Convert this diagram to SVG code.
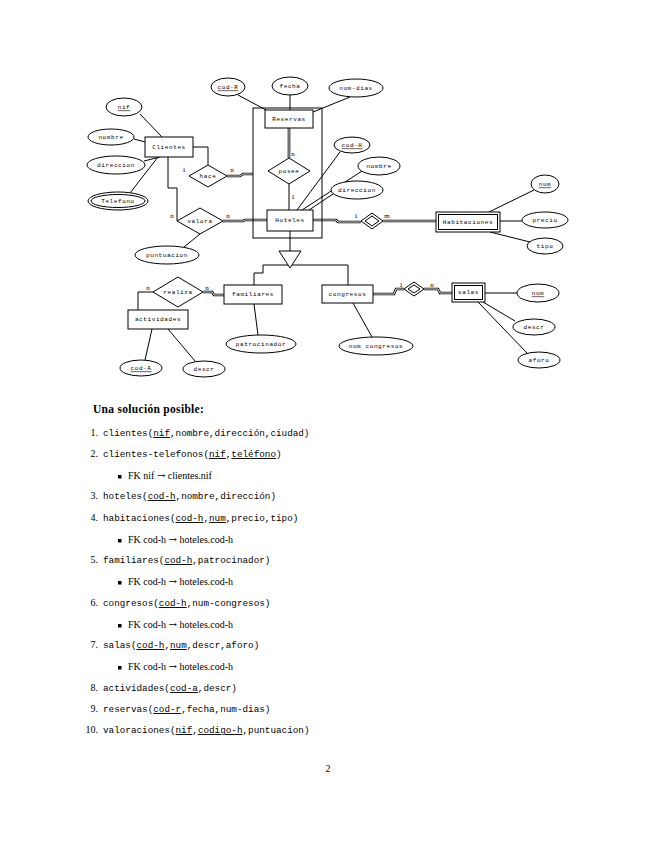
<svg xmlns="http://www.w3.org/2000/svg" width="655" height="848" viewBox="0 0 655 848">
<style>
.e{fill:#fff;stroke:#000;stroke-width:1}
.n{fill:none;stroke:#000;stroke-width:1}
.t{font-family:"Liberation Mono",monospace;font-size:6px;letter-spacing:0.6px;text-anchor:middle;dominant-baseline:central;fill:#000}
.c{font-family:"Liberation Serif",serif;font-size:7px;text-anchor:middle;fill:#000}
.dO{fill:none;stroke:#000;stroke-width:2.6}
.dI{fill:none;stroke:#fff;stroke-width:0.9}
.u{text-decoration:underline}
.m{font-family:"Liberation Mono",monospace;font-size:9.3px;fill:#000}
.s{font-family:"Liberation Serif",serif;font-size:10px;fill:#000}
.a{font-family:"DejaVu Serif",serif;font-size:10px}
.num{font-family:"Liberation Serif",serif;font-size:10px;fill:#000;text-anchor:end}
</style>
<rect width="655" height="848" fill="#fff"/>
<g id="connectors">
<path class="n" d="M140,114 L162,137 M134,139 L145,142 M144,161 L160,157 M130,193 L158,157 M193,147 H208 V165 M168,157 V188 H177 V221 M200,234 L184,247 M238,95 L266,110 M290,95 V110 M350,97 L313,112 M289,184 V210 M340,152 L297,210 M362,171 L302,210 M333,194 L309,210 M290,231 V251 M290,265 H263 V273 H254 V285 M290,265 H348 V285 M254,304 L258,335 M353,303 L372,337 M485,293 H517 M483,302 L515,321 M478,302 L527,353 M489,212 L534,190 M500,221 H522 M490,232 L530,242 M153,292 H138 V310 M152,329 L145,360 M168,329 L195,361"/>
<path class="dO" d="M289,128 V158 M227,176 H240 L243,174 H253 M223,221 H243 L245,220 H267 M313,220 H336 L338,222 H361 M383,221 H436 M203,292 H212 L214,295 H224 M373,294 H394 L396,289 H404 M424,289 H438 L440,293 H452"/>
<path class="dI" d="M289,128 V158 M227,176 H240 L243,174 H253 M223,221 H243 L245,220 H267 M313,220 H336 L338,222 H361 M383,221 H436 M203,292 H212 L214,295 H224 M373,294 H394 L396,289 H404 M424,289 H438 L440,293 H452"/>
<rect class="n" x="253" y="108" width="69" height="130"/>
<text class="c" x="184" y="172">1</text>
<text class="c" x="232" y="172">n</text>
<text class="c" x="172" y="218">n</text>
<text class="c" x="228" y="218">n</text>
<text class="c" x="293" y="156">n</text>
<text class="c" x="293" y="199">1</text>
<text class="c" x="356" y="218">1</text>
<text class="c" x="387" y="218">m</text>
<text class="c" x="148" y="290">n</text>
<text class="c" x="207" y="290">n</text>
<text class="c" x="401" y="287">1</text>
<text class="c" x="432" y="287">n</text>
</g>
<g id="clientes"><rect class="e" x="145" y="137" width="48" height="20"/><text class="t" x="169" y="147">Clientes</text></g>
<g id="nif"><ellipse class="e" cx="124" cy="107" rx="18" ry="9"/><text class="t u" x="124" y="107">nif</text></g>
<g id="nombre-c"><ellipse class="e" cx="111" cy="137" rx="23" ry="8"/><text class="t" x="111" y="137">nombre</text></g>
<g id="direccion-c"><ellipse class="e" cx="116" cy="165" rx="29" ry="9"/><text class="t" x="116" y="165">direccion</text></g>
<g id="telefono"><ellipse class="e" cx="118" cy="201" rx="30" ry="9"/><ellipse class="e" cx="118" cy="201" rx="27" ry="6.5"/><text class="t" x="118" y="201">Telefono</text></g>
<g id="hace"><polygon class="e" points="189,176 208,165 227,176 208,187"/><text class="t" x="208" y="176">hace</text></g>
<g id="valora"><polygon class="e" points="177,221 200,208 223,221 200,234"/><text class="t" x="200" y="221">valora</text></g>
<g id="puntuacion"><ellipse class="e" cx="167" cy="255" rx="32" ry="9"/><text class="t" x="167" y="255">puntuacion</text></g>
<g id="reservas"><rect class="e" x="265" y="110" width="48" height="18"/><text class="t" x="289" y="119">Reservas</text></g>
<g id="cod-r"><ellipse class="e" cx="228" cy="87" rx="17" ry="9"/><text class="t u" x="228" y="87">cod-R</text></g>
<g id="fecha"><ellipse class="e" cx="290" cy="86" rx="18" ry="9"/><text class="t" x="290" y="86">fecha</text></g>
<g id="num-dias"><ellipse class="e" cx="356" cy="88" rx="27" ry="9"/><text class="t" x="356" y="88">num-dias</text></g>
<g id="posee"><polygon class="e" points="268,171 289,158 310,171 289,184"/><text class="t" x="289" y="171">posee</text></g>
<g id="hoteles"><rect class="e" x="267" y="210" width="46" height="21"/><text class="t" x="290" y="220.5">Hoteles</text></g>
<g id="cod-h"><ellipse class="e" cx="352" cy="145" rx="18" ry="8"/><text class="t u" x="352" y="145">cod-H</text></g>
<g id="nombre-h"><ellipse class="e" cx="379" cy="166" rx="21" ry="9"/><text class="t" x="379" y="166">nombre</text></g>
<g id="direccion-h"><ellipse class="e" cx="357" cy="190" rx="26" ry="9"/><text class="t" x="357" y="190">direccion</text></g>
<g id="tiene-hab"><polygon class="e" points="361,221 372,213 383,221 372,229"/><polygon class="e" points="365,221 372,216 379,221 372,226"/></g>
<g id="habitaciones"><rect class="e" x="436" y="212" width="64" height="20"/><rect class="e" x="438.5" y="214.5" width="59" height="15"/><text class="t" x="468" y="222">Habitaciones</text></g>
<g id="num-hab"><ellipse class="e" cx="545" cy="184" rx="14" ry="9"/><text class="t u" x="545" y="184">num</text></g>
<g id="precio"><ellipse class="e" cx="545" cy="220" rx="23" ry="8"/><text class="t" x="545" y="220">precio</text></g>
<g id="tipo"><ellipse class="e" cx="545" cy="246" rx="18" ry="8"/><text class="t" x="545" y="246">tipo</text></g>
<g id="isa"><polygon class="e" points="279,251 301,251 290,268"/></g>
<g id="familiares"><rect class="e" x="224" y="285" width="58" height="19"/><text class="t" x="253" y="294.5">familiares</text></g>
<g id="patrocinador"><ellipse class="e" cx="261" cy="344" rx="35" ry="9"/><text class="t" x="261" y="344">patrocinador</text></g>
<g id="congresos"><rect class="e" x="322" y="285" width="51" height="18"/><text class="t" x="347.5" y="294">congresos</text></g>
<g id="num-congresos"><ellipse class="e" cx="376" cy="346" rx="37" ry="9"/><text class="t" x="376" y="346">num congresos</text></g>
<g id="tiene-salas"><polygon class="e" points="404,289 414,282 424,289 414,296"/><polygon class="e" points="408,289 414,285 420,289 414,293"/></g>
<g id="salas"><rect class="e" x="452" y="283" width="33" height="19"/><rect class="e" x="454.5" y="285.5" width="28" height="14"/><text class="t" x="468.5" y="292.5">salas</text></g>
<g id="num-salas"><ellipse class="e" cx="538" cy="293" rx="21" ry="9"/><text class="t u" x="538" y="293">num</text></g>
<g id="descr-s"><ellipse class="e" cx="534" cy="327" rx="21" ry="8"/><text class="t" x="534" y="327">descr</text></g>
<g id="aforo"><ellipse class="e" cx="539" cy="360" rx="21" ry="8"/><text class="t" x="539" y="360">aforo</text></g>
<g id="realiza"><polygon class="e" points="153,292 178,277 203,292 178,307"/><text class="t" x="178" y="292">realiza</text></g>
<g id="actividades"><rect class="e" x="128" y="310" width="60" height="19"/><text class="t" x="158" y="319.5">actividades</text></g>
<g id="cod-a"><ellipse class="e" cx="141" cy="368" rx="21" ry="8"/><text class="t u" x="141" y="368">cod-A</text></g>
<g id="descr-a"><ellipse class="e" cx="204" cy="369" rx="21" ry="8"/><text class="t" x="204" y="369">descr</text></g>
<g id="solution">
<text x="93" y="413" style="font-family:'Liberation Serif',serif;font-size:11.5px;font-weight:bold;letter-spacing:0.3px">Una solución posible:</text>
<text class="num" x="98" y="436">1.</text><text class="m" x="103" y="436">clientes(<tspan class="u">nif</tspan>,nombre,dirección,ciudad)</text>
<text class="num" x="98" y="457">2.</text><text class="m" x="103" y="457">clientes-telefonos(<tspan class="u">nif</tspan>,<tspan class="u">teléfono</tspan>)</text>
<rect x="118" y="475" width="3.5" height="3.5"/><text class="s" x="128" y="479">FK nif <tspan class="a">→</tspan> clientes.nif</text>
<text class="num" x="98" y="499">3.</text><text class="m" x="103" y="499">hoteles(<tspan class="u">cod-h</tspan>,nombre,dirección)</text>
<text class="num" x="98" y="521">4.</text><text class="m" x="103" y="521">habitaciones(<tspan class="u">cod-h</tspan>,<tspan class="u">num</tspan>,precio,tipo)</text>
<rect x="118" y="539" width="3.5" height="3.5"/><text class="s" x="128" y="543">FK cod-h <tspan class="a">→</tspan> hoteles.cod-h</text>
<text class="num" x="98" y="563">5.</text><text class="m" x="103" y="563">familiares(<tspan class="u">cod-h</tspan>,patrocinador)</text>
<rect x="118" y="581" width="3.5" height="3.5"/><text class="s" x="128" y="585">FK cod-h <tspan class="a">→</tspan> hoteles.cod-h</text>
<text class="num" x="98" y="606">6.</text><text class="m" x="103" y="606">congresos(<tspan class="u">cod-h</tspan>,num-congresos)</text>
<rect x="118" y="624" width="3.5" height="3.5"/><text class="s" x="128" y="628">FK cod-h <tspan class="a">→</tspan> hoteles.cod-h</text>
<text class="num" x="98" y="648">7.</text><text class="m" x="103" y="648">salas(<tspan class="u">cod-h</tspan>,<tspan class="u">num</tspan>,descr,aforo)</text>
<rect x="118" y="666" width="3.5" height="3.5"/><text class="s" x="128" y="670">FK cod-h <tspan class="a">→</tspan> hoteles.cod-h</text>
<text class="num" x="98" y="691">8.</text><text class="m" x="103" y="691">actividades(<tspan class="u">cod-a</tspan>,descr)</text>
<text class="num" x="98" y="712">9.</text><text class="m" x="103" y="712">reservas(<tspan class="u">cod-r</tspan>,fecha,num-dias)</text>
<text class="num" x="98" y="733">10.</text><text class="m" x="103" y="733">valoraciones(<tspan class="u">nif</tspan>,<tspan class="u">codigo-h</tspan>,puntuacion)</text>
<text class="s" x="328" y="772" text-anchor="middle">2</text>
</g>
</svg>
